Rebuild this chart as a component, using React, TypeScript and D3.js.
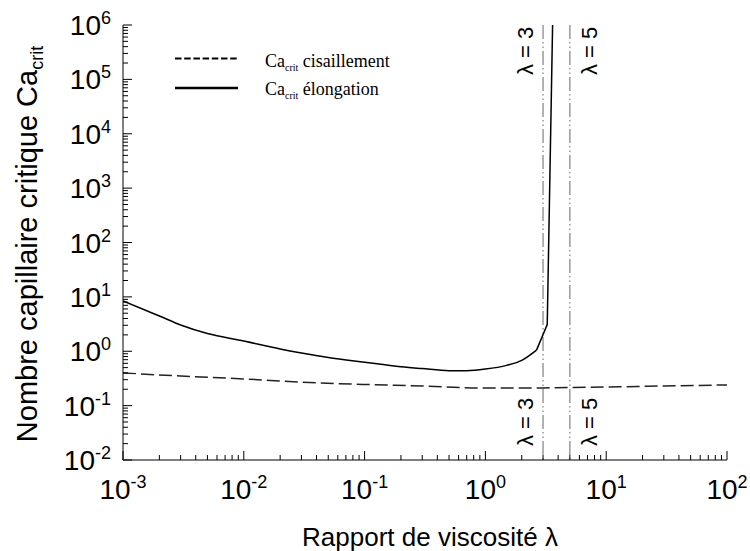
import React from "react";
import * as d3 from "d3";

// ---- data ----
const lambdaElong = [0.001, 0.002, 0.003, 0.005, 0.01, 0.02, 0.03, 0.05, 0.1, 0.2, 0.3, 0.5, 0.7, 1, 1.5, 2, 2.65, 3.25, 3.6];
const caElong = [8.4, 4.45, 3.04, 2.12, 1.54, 1.1, 0.93, 0.77, 0.63, 0.52, 0.48, 0.44, 0.44, 0.47, 0.55, 0.68, 1.05, 3.1, 1e6];
// index at which the smooth branch ends and the straight divergence begins
const elongKinkIndex = 16;

const lambdaShear = [0.001, 0.003, 0.01, 0.03, 0.1, 0.3, 1, 3, 10, 30, 100];
const caShear = [0.4, 0.35, 0.31, 0.27, 0.245, 0.23, 0.21, 0.212, 0.22, 0.23, 0.24];

const criticalLambdas = [3, 5];
const criticalLabels = ["λ = 3", "λ = 5"];

const xTickExps = [-3, -2, -1, 0, 1, 2];
const yTickExps = [-2, -1, 0, 1, 2, 3, 4, 5, 6];
const minorMults = [2, 3, 4, 5, 6, 7, 8, 9];

const legendLabels = ["cisaillement", "élongation"];

const W = 750;
const H = 551;
const M = { left: 123, right: 727, top: 25, bottom: 460 };

export default function App() {
  const x = d3.scaleLog().domain([1e-3, 1e2]).range([M.left, M.right]);
  const y = d3.scaleLog().domain([1e-2, 1e6]).range([M.bottom, M.top]);

  const smooth = d3
    .line<[number, number]>()
    .x((d) => x(d[0]))
    .y((d) => y(d[1]))
    .curve(d3.curveMonotoneX);
  const straight = d3
    .line<[number, number]>()
    .x((d) => x(d[0]))
    .y((d) => y(d[1]))
    .curve(d3.curveLinear);

  const elong: [number, number][] = lambdaElong.map((l, i) => [l, caElong[i]]);
  const elongSmooth = elong.slice(0, elongKinkIndex + 1);
  const elongSteep = elong.slice(elongKinkIndex);
  const shear: [number, number][] = lambdaShear.map((l, i) => [l, caShear[i]]);

  const xMinor: number[] = [];
  xTickExps.slice(0, -1).forEach((e) => minorMults.forEach((m) => xMinor.push(m * Math.pow(10, e))));
  const yMinor: number[] = [];
  yTickExps.slice(0, -1).forEach((e) => minorMults.forEach((m) => yMinor.push(m * Math.pow(10, e))));

  const sans = "'Liberation Sans', Arial, sans-serif";
  const serif = "'Liberation Serif', 'Times New Roman', serif";

  return (
    <svg
      width={W}
      height={H}
      style={{ position: "absolute", left: 0, top: 0, background: "#fff" }}
      fontFamily={sans}
    >
      <rect x={0} y={0} width={W} height={H} fill="#fff" />
      <defs>
        <clipPath id="plotClip">
          <rect x={M.left} y={M.top} width={M.right - M.left} height={M.bottom - M.top} />
        </clipPath>
      </defs>

      {/* critical lambda lines */}
      {criticalLambdas.map((l) => (
        <line
          key={"cl" + l}
          x1={x(l)}
          x2={x(l)}
          y1={M.top}
          y2={M.bottom}
          stroke="#9a9a9a"
          strokeWidth={1.5}
          strokeDasharray="14,3,1.5,3,1.5,3"
        />
      ))}
      {criticalLambdas.map((l, i) => {
        const bx = i === 0 ? x(l) - 10 : x(l) + 27;
        return (
          <g key={"lab" + l}>
            <text transform={`translate(${bx},75) rotate(-90)`} fontSize={22} fill="#000">
              {criticalLabels[i]}
            </text>
            <text transform={`translate(${bx},446) rotate(-90)`} fontSize={22} fill="#000">
              {criticalLabels[i]}
            </text>
          </g>
        );
      })}

      {/* curves */}
      <g clipPath="url(#plotClip)">
        <path d={smooth(shear) || ""} fill="none" stroke="#222" strokeWidth={1.5} strokeDasharray="13,5" />
        <path d={smooth(elongSmooth) || ""} fill="none" stroke="#000" strokeWidth={1.5} />
        <path d={straight(elongSteep) || ""} fill="none" stroke="#000" strokeWidth={1.5} />
      </g>

      {/* axes */}
      <line x1={M.left} x2={M.left} y1={M.top} y2={M.bottom} stroke="#000" strokeWidth={1} />
      <line x1={M.left} x2={M.right} y1={M.bottom} y2={M.bottom} stroke="#000" strokeWidth={1} />

      {xTickExps.map((e) => (
        <line key={"xM" + e} x1={x(Math.pow(10, e))} x2={x(Math.pow(10, e))} y1={M.bottom} y2={M.bottom - 9} stroke="#000" />
      ))}
      {xMinor.map((v, i) => (
        <line key={"xm" + i} x1={x(v)} x2={x(v)} y1={M.bottom} y2={M.bottom - 5} stroke="#000" />
      ))}
      {yTickExps.map((e) => (
        <line key={"yM" + e} x1={M.left} x2={M.left + 9} y1={y(Math.pow(10, e))} y2={y(Math.pow(10, e))} stroke="#000" />
      ))}
      {yMinor.map((v, i) => (
        <line key={"ym" + i} x1={M.left} x2={M.left + 5} y1={y(v)} y2={y(v)} stroke="#000" />
      ))}

      {/* tick labels */}
      {xTickExps.map((e) => (
        <text key={"xl" + e} x={x(Math.pow(10, e))} y={499} textAnchor="middle" fontSize={28} fill="#000">
          <tspan>10</tspan>
          <tspan dy={-11} fontSize={18}>{e}</tspan>
        </text>
      ))}
      {yTickExps.map((e) => (
        <text key={"yl" + e} x={111} y={y(Math.pow(10, e)) + 10} textAnchor="end" fontSize={28} fill="#000">
          <tspan>10</tspan>
          <tspan dy={-11} fontSize={18}>{e}</tspan>
        </text>
      ))}

      {/* axis titles */}
      <text x={430} y={546} textAnchor="middle" fontSize={26} fill="#000">
        Rapport de viscosité λ
      </text>
      <text transform={`translate(37,244) rotate(-90)`} textAnchor="middle" fontSize={29} fill="#000">
        <tspan>Nombre capillaire critique Ca</tspan>
        <tspan dy={6} fontSize={18}>crit</tspan>
      </text>

      {/* legend */}
      <line x1={175} x2={238} y1={58.5} y2={58.5} stroke="#000" strokeWidth={2} strokeDasharray="6.5,2.7" />
      <line x1={175} x2={238} y1={88} y2={88} stroke="#000" strokeWidth={2.5} />
      {legendLabels.map((t, i) => (
        <text key={"lg" + i} x={265} y={66.5 + i * 28.5} fontFamily={serif} fontSize={18} fill="#000">
          <tspan>Ca</tspan>
          <tspan dy={4} fontSize={10}>crit</tspan>
          <tspan dy={-4}> {t}</tspan>
        </text>
      ))}
    </svg>
  );
}
